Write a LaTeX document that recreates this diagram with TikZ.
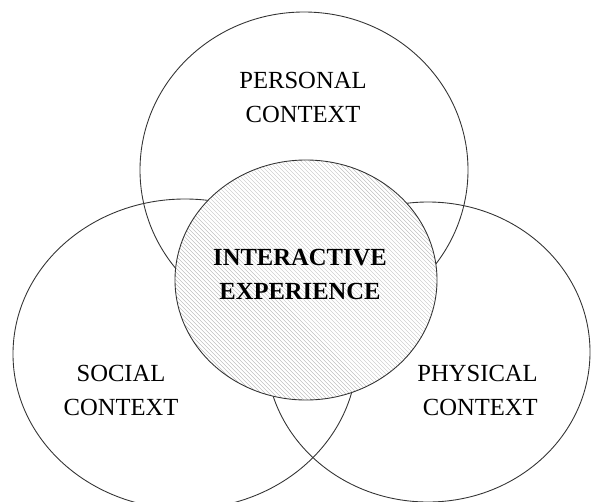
\documentclass[tikz,border=0pt]{standalone}
\usepackage{fontspec}
\setmainfont{Liberation Serif}

\begin{document}
\begin{tikzpicture}[x=0.03cm,y=-0.03cm]

%
% Styles
%
\tikzstyle{ring} = [draw=black!80,line width=0.75pt]
\tikzstyle{hatch} = [draw=black!30,line width=0.3pt]
\tikzstyle{ctxtext} = [align=center,inner sep=0pt,font=\fontsize{21}{29}\selectfont]

\clip (0,0) rectangle (592,501);

\coordinate (personal) at (304,170);
\coordinate (social)   at (185,354);
\coordinate (physical) at (428,352);
\coordinate (core)     at (306,280);

\draw[ring] (personal) ellipse (164 and 158);
\draw[ring] (social)   ellipse (172 and 155);
\draw[ring] (physical) ellipse (162 and 150);

% hatched middle
\fill[white] (core) ellipse (131 and 120);
\begin{scope}
\clip (core) ellipse (131 and 120);
\foreach \i in {-30,-26,...,340}
  \draw[hatch] (\i,130) -- (\i+300,430);
\end{scope}
\draw[ring] (core) ellipse (131 and 120);

\node[ctxtext] (personaltext) at (303,97) {PERSONAL\\CONTEXT};
\node[ctxtext] (socialtext)   at (121,390) {SOCIAL\\CONTEXT};
\node[ctxtext,align=right,anchor=east] (physicaltext) at (538,390) {PHYSICAL\\CONTEXT};
\node[ctxtext,font=\fontsize{21}{29}\selectfont\bfseries] (coretext) at (300,274) {INTERACTIVE\\EXPERIENCE};

\end{tikzpicture}
\end{document}
